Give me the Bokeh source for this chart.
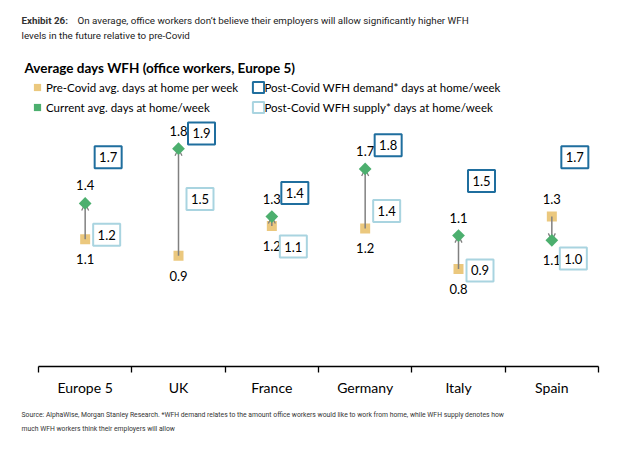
import numpy as np
from bokeh.plotting import figure
from bokeh.models import (ColumnDataSource, Range1d, LinearAxis, FixedTicker, Label,
                          Legend, LegendItem, Arrow, OpenHead, Title)
from bokeh.transform import dodge
from bokeh.core.properties import value
from bokeh.embed import file_html
from bokeh.resources import INLINE

# ---------------- data ----------------
categories = ["Europe 5", "UK", "France", "Germany", "Italy", "Spain"]
pre_covid = [1.07, 0.93, 1.18, 1.16, 0.82, 1.26]      # Pre-Covid avg. days at home per week
current = [1.37, 1.83, 1.26, 1.66, 1.10, 1.06]        # Current avg. days at home/week
demand = [1.7, 1.9, 1.4, 1.8, 1.5, 1.7]               # Post-Covid WFH demand
supply = [1.2, 1.5, 1.1, 1.4, 0.9, 1.0]               # Post-Covid WFH supply

# ---------------- styles ----------------
TAN = "#EBC87E"
GREEN = "#4CAF6E"
DBLUE = "#1F6E9E"
LBLUE = "#A9D4E0"
GRAY = "#808080"
CHART_FONT = "Lato"
SMALL_FONT = "Roboto"

n = len(categories)
xs = [i + 0.5 for i in range(n)]
pre_lbl = [f"{v:.1f}" for v in pre_covid]
cur_lbl = [f"{v:.1f}" for v in current]
pre_off = [-18 if a > b else 20 for a, b in zip(pre_covid, current)]
cur_off = [-18 if b >= a else 20 for a, b in zip(pre_covid, current)]

src = ColumnDataSource(dict(
    x=xs, pre=pre_covid, cur=current, demand=demand, supply=supply,
    pre_lbl=pre_lbl, cur_lbl=cur_lbl, pre_off=pre_off, cur_off=cur_off,
    dem_lbl=[f"{v:.1f}" for v in demand], sup_lbl=[f"{v:.1f}" for v in supply],
))

W, H = 628, 453
AX_L, AX_R = 38, 598          # pixel extent of the category axis
FRAME_B = 366                 # pixel row of the value-zero baseline
PX_UNIT = 119                 # pixels per day
cat_px = (AX_R - AX_L) / n
p = figure(width=W, height=H, output_backend="svg", toolbar_location=None, title=None,
           x_range=Range1d(-AX_L / cat_px, (W - AX_L) / cat_px),
           y_range=Range1d(0, FRAME_B / PX_UNIT),
           x_axis_location=None, y_axis_location=None,
           min_border_left=0, min_border_right=0, min_border_top=0,
           min_border_bottom=H - FRAME_B)
p.outline_line_color = None
p.background_fill_color = "white"
p.border_fill_color = "white"
for g in p.grid:
    g.visible = False

# x axis with boundary ticks
xaxis = LinearAxis(ticker=FixedTicker(ticks=xs, minor_ticks=list(range(n + 1))),
                   major_label_overrides={x: c for x, c in zip(xs, categories)},
                   bounds=(0, n))
xaxis.major_tick_line_color = None
xaxis.major_tick_in = 0
xaxis.major_tick_out = 0
xaxis.minor_tick_in = 0
xaxis.minor_tick_out = 6
xaxis.minor_tick_line_color = "black"
xaxis.minor_tick_line_width = 1.3
xaxis.axis_line_color = "black"
xaxis.axis_line_width = 1.3
xaxis.major_label_text_font = CHART_FONT
xaxis.major_label_text_font_size = "14px"
xaxis.major_label_text_color = "black"
xaxis.major_label_standoff = 6
p.add_layout(xaxis, "below")

# footer as a two-line title below the axis
foot = Title(text="Source: AlphaWise, Morgan Stanley Research. *WFH demand relates to the amount "
                  "office workers would like to work from home, while WFH supply denotes how\n"
                  "much WFH workers think their employers will allow",
             align="left", offset=21, standoff=21, text_font=SMALL_FONT,
             text_font_size="6.8px", text_font_style="normal", text_color="#333333",
             text_line_height=1.7)
p.add_layout(foot, "below")

# markers & arrows
r_pre = p.scatter("x", "pre", source=src, marker="square", size=10,
                  fill_color=TAN, line_color=None)
arrow = Arrow(x_start="x", y_start="pre", x_end="x", y_end="cur", source=src,
              line_color=GRAY, line_width=1.5,
              end=OpenHead(size=7, line_color=GRAY, line_width=1.3))
p.add_layout(arrow)
r_cur = p.scatter("x", "cur", source=src, marker="square", angle=np.pi / 4, size=9,
                  fill_color=GREEN, line_color=None, level="overlay")

# value labels
for fld, lbl, off in (("pre", "pre_lbl", "pre_off"), ("cur", "cur_lbl", "cur_off")):
    p.text("x", fld, text=lbl, source=src, y_offset=off, text_align="center",
           text_baseline="middle", text_font=value(CHART_FONT), text_font_size="13px",
           text_color="black")

# demand / supply boxes
dem_x = dodge("x", 23 / cat_px)
dem_y = dodge("demand", 7 / PX_UNIT)
sup_x = dodge("x", 21.5 / cat_px)
sup_y = dodge("supply", -11 / PX_UNIT)
r_dem = p.rect(dem_x, dem_y, width=27, height=22, width_units="screen", height_units="screen",
               source=src, fill_color="white", line_color=DBLUE, line_width=2)
p.text(dem_x, dem_y, text="dem_lbl", source=src, text_align="center", text_baseline="middle",
       text_font=value(CHART_FONT), text_font_size="13px", text_color="black")
r_sup = p.rect(sup_x, sup_y, width=27, height=22, width_units="screen", height_units="screen",
               source=src, fill_color="white", line_color=LBLUE, line_width=2)
p.text(sup_x, sup_y, text="sup_lbl", source=src, text_align="center", text_baseline="middle",
       text_font=value(CHART_FONT), text_font_size="13px", text_color="black")

# legends
def make_legend(items, loc, gw, gh):
    return Legend(items=items, location=loc, orientation="vertical",
                  label_text_font=CHART_FONT, label_text_font_size="11.5px",
                  label_text_color="black", label_height=20, glyph_width=gw, glyph_height=gh,
                  label_standoff=0, spacing=0, padding=0, margin=0,
                  border_line_color=None, background_fill_alpha=0)

leg1 = make_legend([LegendItem(label="Pre-Covid avg. days at home per week", renderers=[r_pre]),
                    LegendItem(label="Current avg. days at home/week", renderers=[r_cur])],
                   (28, FRAME_B - 117), 18, 20)
leg2 = make_legend([LegendItem(label="Post-Covid WFH demand* days at home/week", renderers=[r_dem]),
                    LegendItem(label="Post-Covid WFH supply* days at home/week", renderers=[r_sup])],
                   (250.5, FRAME_B - 117), 14, 14)
p.add_layout(leg1)
p.add_layout(leg2)

# header / chart title (screen units, measured from the frame's bottom-left)
def lab(txt, x, y_px, font, size, style="normal", color="#222222"):
    p.add_layout(Label(x=x, y=FRAME_B - y_px, x_units="screen", y_units="screen", text=txt,
                       text_font=font, text_font_size=size, text_font_style=style,
                       text_color=color, text_baseline="middle", text_align="left"))

lab("Exhibit 26:", 21, 20, SMALL_FONT, "9.8px", "bold", "#333333")
lab("On average, office workers don\u2019t believe their employers will allow significantly higher WFH",
    77, 20, SMALL_FONT, "9.8px")
lab("levels in the future relative to pre-Covid", 21, 35, SMALL_FONT, "9.8px")
lab("Average days WFH (office workers, Europe 5)", 24, 67, CHART_FONT, "13.5px", "bold", "black")

open("out.html", "w").write(file_html(p, INLINE))
